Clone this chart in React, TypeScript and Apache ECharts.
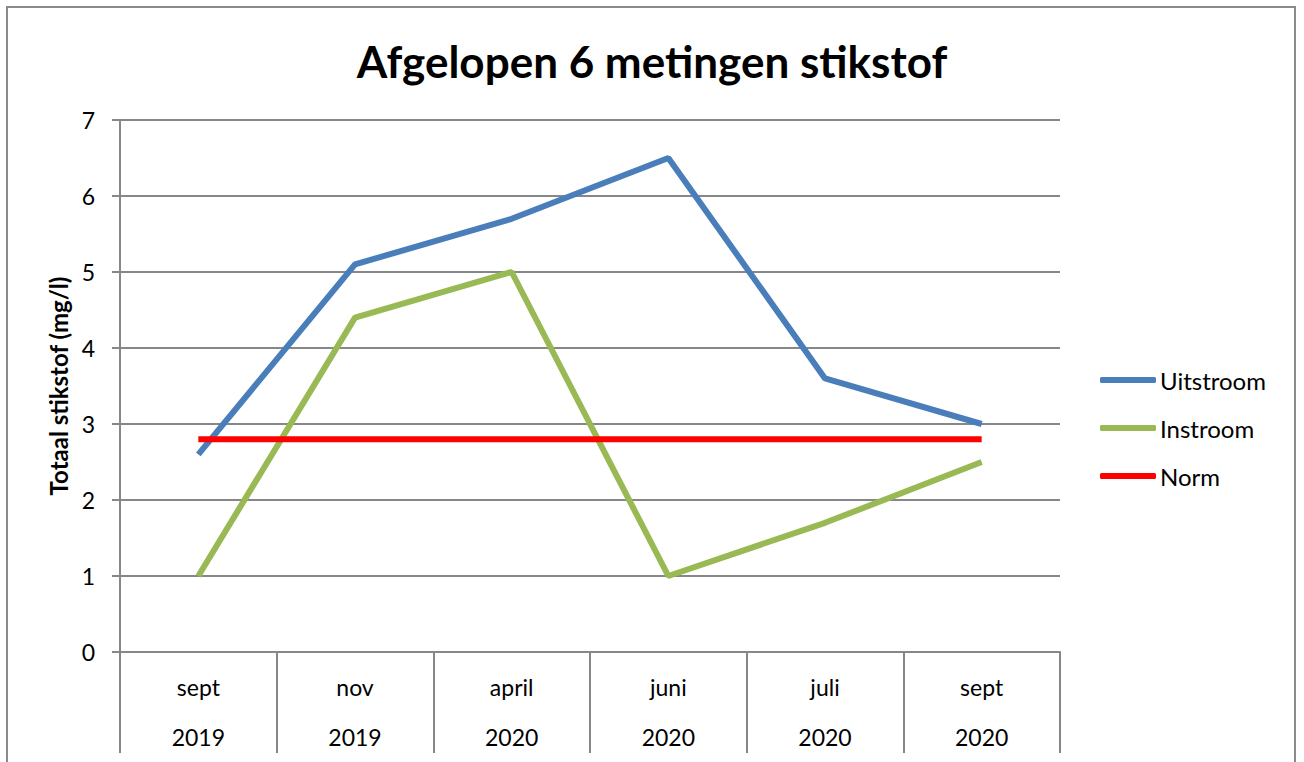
import React, { useEffect, useRef } from "react";
import * as echarts from "echarts";

const categories = ["sept\n2019", "nov\n2019", "april\n2020", "juni\n2020", "juli\n2020", "sept\n2020"];
const uitstroom = [2.6, 5.1, 5.7, 6.5, 3.6, 3.0];
const instroom = [1.0, 4.4, 5.0, 1.0, 1.7, 2.5];
const norm = [2.8, 2.8, 2.8, 2.8, 2.8, 2.8];

const FONT = "Lato, 'Open Sans', sans-serif";
const GRID_COLOR = "#878787";

export default function App() {
  const ref = useRef<HTMLDivElement>(null);
  useEffect(() => {
    if (!ref.current) return;
    const chart = echarts.init(ref.current, undefined, { renderer: "svg" });
    chart.setOption({
      animation: false,
      backgroundColor: "#ffffff",
      textStyle: { fontFamily: FONT },
      title: {
        text: "Afgelopen 6 metingen stikstof",
        left: "center",
        top: 34,
        textStyle: { fontFamily: FONT, fontWeight: "bold", fontSize: 44, color: "#000" },
      },
      graphic: [
        {
          type: "rect",
          shape: { x: 7, y: 7, width: 1288, height: 800 },
          style: { fill: "none", stroke: "#8a8a8a", lineWidth: 2 },
          silent: true,
        },
      ],
      legend: {
        orient: "vertical",
        left: 1100,
        top: 368,
        padding: 0,
        icon: "roundRect",
        itemWidth: 56,
        itemHeight: 6,
        itemGap: 24,
        data: ["Uitstroom", "Instroom", "Norm"],
        textStyle: { fontFamily: FONT, fontSize: 24, lineHeight: 24, color: "#000", padding: [0, 0, 0, -1] },
      },
      grid: { left: 120, right: 244, top: 120, bottom: 110, containLabel: false },
      xAxis: {
        type: "category",
        data: categories,
        boundaryGap: true,
        axisLine: { show: true, lineStyle: { color: GRID_COLOR, width: 2 } },
        axisTick: { show: true, interval: 0, length: 101, lineStyle: { color: GRID_COLOR, width: 2 } },
        axisLabel: {
          interval: 0,
          margin: 10,
          fontFamily: FONT,
          fontSize: 23,
          lineHeight: 50,
          color: "#000",
        },
      },
      yAxis: {
        type: "value",
        min: 0,
        max: 7,
        interval: 1,
        name: "Totaal stikstof (mg/l)",
        nameLocation: "middle",
        nameRotate: 90,
        nameGap: 48,
        nameTextStyle: { fontFamily: FONT, fontWeight: "bold", fontSize: 24, color: "#000" },
        axisLine: { show: true, lineStyle: { color: GRID_COLOR, width: 2 } },
        axisTick: { show: true, inside: false, length: 8, lineStyle: { color: GRID_COLOR, width: 2 } },
        axisLabel: { fontFamily: FONT, fontSize: 23, color: "#000", margin: 25 },
        splitLine: { show: true, lineStyle: { color: GRID_COLOR, width: 2 } },
      },
      series: [
        {
          name: "Uitstroom",
          type: "line",
          data: uitstroom,
          symbol: "none",
          color: "#4A7EBB",
          lineStyle: { width: 6, color: "#4A7EBB" },
        },
        {
          name: "Instroom",
          type: "line",
          data: instroom,
          symbol: "none",
          color: "#98B954",
          lineStyle: { width: 6, color: "#98B954" },
        },
        {
          name: "Norm",
          type: "line",
          data: norm,
          symbol: "none",
          color: "#FF0000",
          lineStyle: { width: 6, color: "#FF0000" },
        },
      ],
    });
    return () => chart.dispose();
  }, []);
  return (
    <div
      ref={ref}
      style={{ position: "fixed", left: 0, top: 0, width: 1304, height: 762, background: "#fff" }}
    />
  );
}
